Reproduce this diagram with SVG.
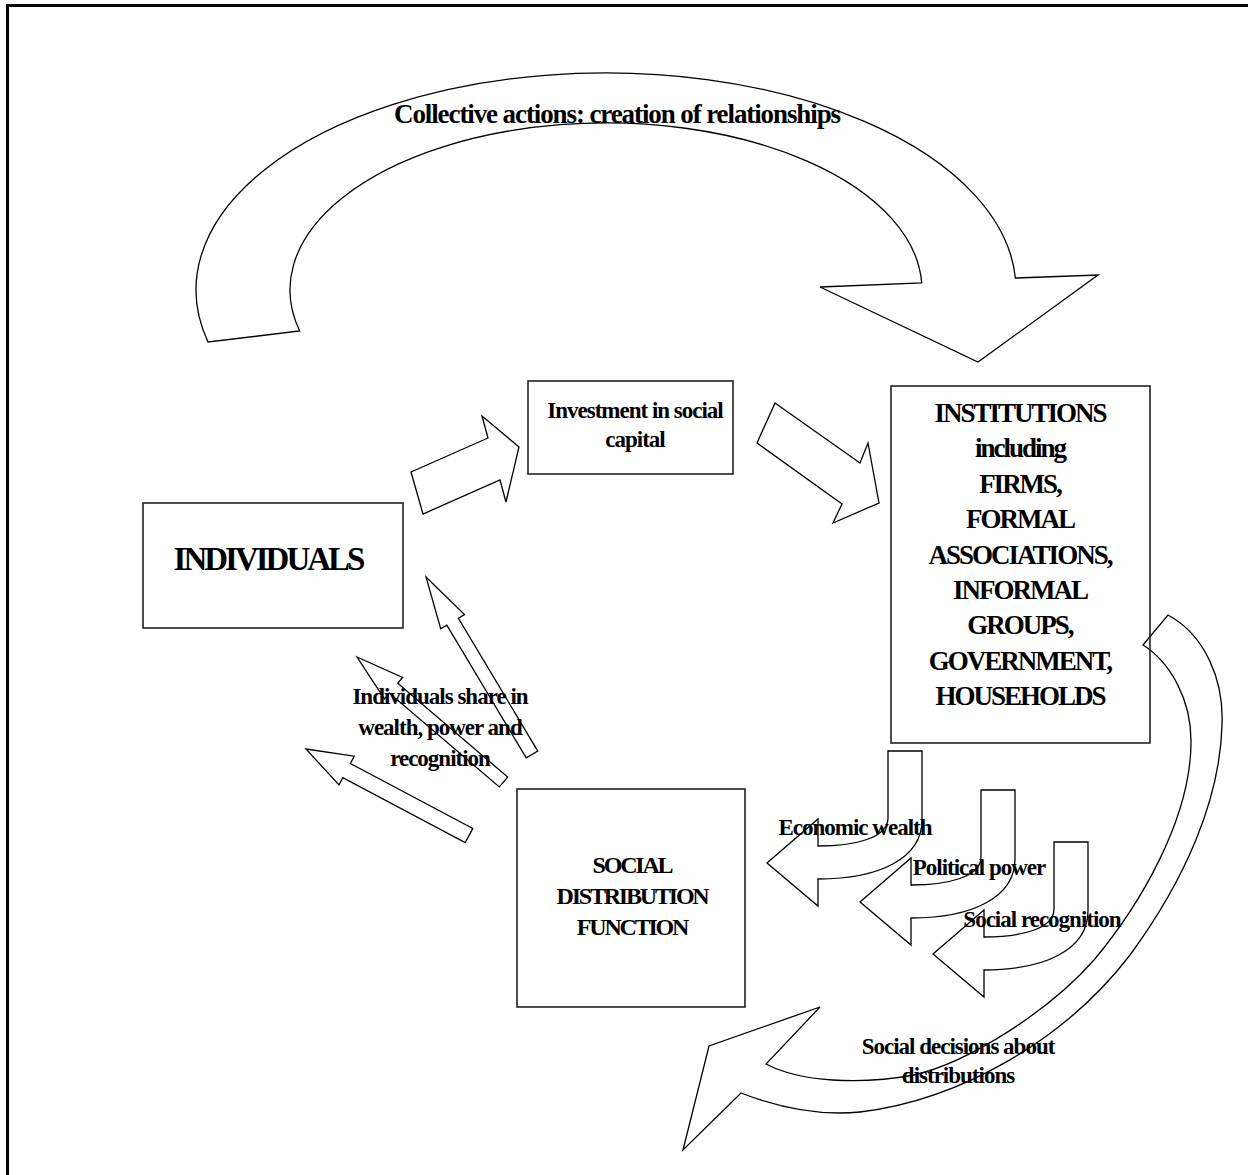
<svg xmlns="http://www.w3.org/2000/svg" width="1248" height="1175" viewBox="0 0 1248 1175">
<style>
.box{fill:none;stroke:#222;stroke-width:1.6}
.arr{fill:none;stroke:#000;stroke-width:1.3;stroke-linejoin:miter}
text{font-family:"Liberation Serif","Times New Roman",serif;font-weight:bold;fill:#000;text-anchor:middle}
.s{font-size:23px;letter-spacing:-1px}
.big{font-size:27px;letter-spacing:-2px}
</style>
<defs>
<path id="bent" d="M888,751 H922 V820 C922,858 880,879 818,879 V906 L767,863 L818,819 V846 C855,846 888,838 888,818 Z"/>
</defs>
<rect width="1248" height="1175" fill="#fff"/>
<path d="M7.5,1175 V5.5 H1248" fill="none" stroke="#000" stroke-width="3"/>
<g id="connectors">
<path id="arc-collective" class="arr" d="M208,342 A410,217 0 1 1 1015.4,278 L1098,275 L978,362 L820,287 L921.7,283 A316,167 0 1 0 299.7,331 Z"/>
<polygon id="arrow-ind-inv" class="arr" points="411,472 488,438 482,416 519,447 506,502 500,480 423,514"/>
<polygon id="arrow-inv-inst" class="arr" points="775,403 860,463 868,443 879,503 833,523 842,504 757,443"/>
<polygon id="arrow-share-a" class="arr" points="426,577 464.5,614.6 458.4,618.3 537.8,751.1 526.2,757.9 446.8,625.1 440.7,628.8"/>
<polygon id="arrow-share-b" class="arr" points="357,657 402.6,677.5 397.7,683.3 507.7,777.1 499.3,786.9 389.3,693.1 384.4,698.9"/>
<polygon id="arrow-share-c" class="arr" points="306,749 354.2,756.2 350.4,763.5 472.8,828.4 465.2,842.6 342.8,777.7 339,785"/>
<use id="arrow-wealth" class="arr" href="#bent"/>
<use id="arrow-power" class="arr" href="#bent" transform="translate(93,39)"/>
<use id="arrow-recognition" class="arr" href="#bent" transform="translate(166,91)"/>
<path id="arrow-decisions" class="arr" d="M1143,645 L1168,615 C1205,635 1224,680 1222,725 C1220,800 1185,880 1130,955 C1065,1040 960,1100 860,1112 C820,1116 780,1108 741,1093 L683,1150 L709,1046 L820,1007 L766,1064 C800,1082 860,1085 914,1075 C970,1062 1050,1010 1094,960 C1140,905 1190,820 1191,744 C1192,700 1170,662 1143,645 Z"/>
</g>
<g id="individuals">
<rect class="box" x="143" y="503" width="260" height="125"/>
<text x="268" y="570" style="font-size:33px;letter-spacing:-3px">INDIVIDUALS</text>
</g>
<g id="investment">
<rect class="box" x="528" y="381" width="205" height="93"/>
<text class="s" x="635" y="418">Investment in social</text>
<text class="s" x="635" y="447">capital</text>
</g>
<g id="institutions">
<rect class="box" x="891" y="386" width="259" height="357"/>
<text class="big" x="1020" y="422">INSTITUTIONS</text>
<text class="big" x="1020" y="457">including</text>
<text class="big" x="1020" y="493">FIRMS,</text>
<text class="big" x="1020" y="528">FORMAL</text>
<text class="big" x="1020" y="564">ASSOCIATIONS,</text>
<text class="big" x="1020" y="599">INFORMAL</text>
<text class="big" x="1020" y="634">GROUPS,</text>
<text class="big" x="1020" y="670">GOVERNMENT,</text>
<text class="big" x="1020" y="705">HOUSEHOLDS</text>
</g>
<g id="sdf">
<rect class="box" x="517" y="789" width="228" height="218"/>
<text x="632" y="873" style="font-size:24px;letter-spacing:-2.2px">SOCIAL</text>
<text x="632" y="904" style="font-size:24px;letter-spacing:-2.2px">DISTRIBUTION</text>
<text x="632" y="935" style="font-size:24px;letter-spacing:-2.2px">FUNCTION</text>
</g>
<g id="labels">
<text x="617" y="123" style="font-size:27px;letter-spacing:-1.1px">Collective actions: creation of relationships</text>
<text class="s" x="440" y="704">Individuals share in</text>
<text class="s" x="440" y="735">wealth, power and</text>
<text class="s" x="440" y="766">recognition</text>
<text class="s" x="855" y="835">Economic wealth</text>
<text class="s" x="979" y="875">Political power</text>
<text class="s" x="1042" y="927">Social recognition</text>
<text class="s" x="958" y="1054">Social decisions about</text>
<text class="s" x="958" y="1083">distributions</text>
</g>
</svg>
